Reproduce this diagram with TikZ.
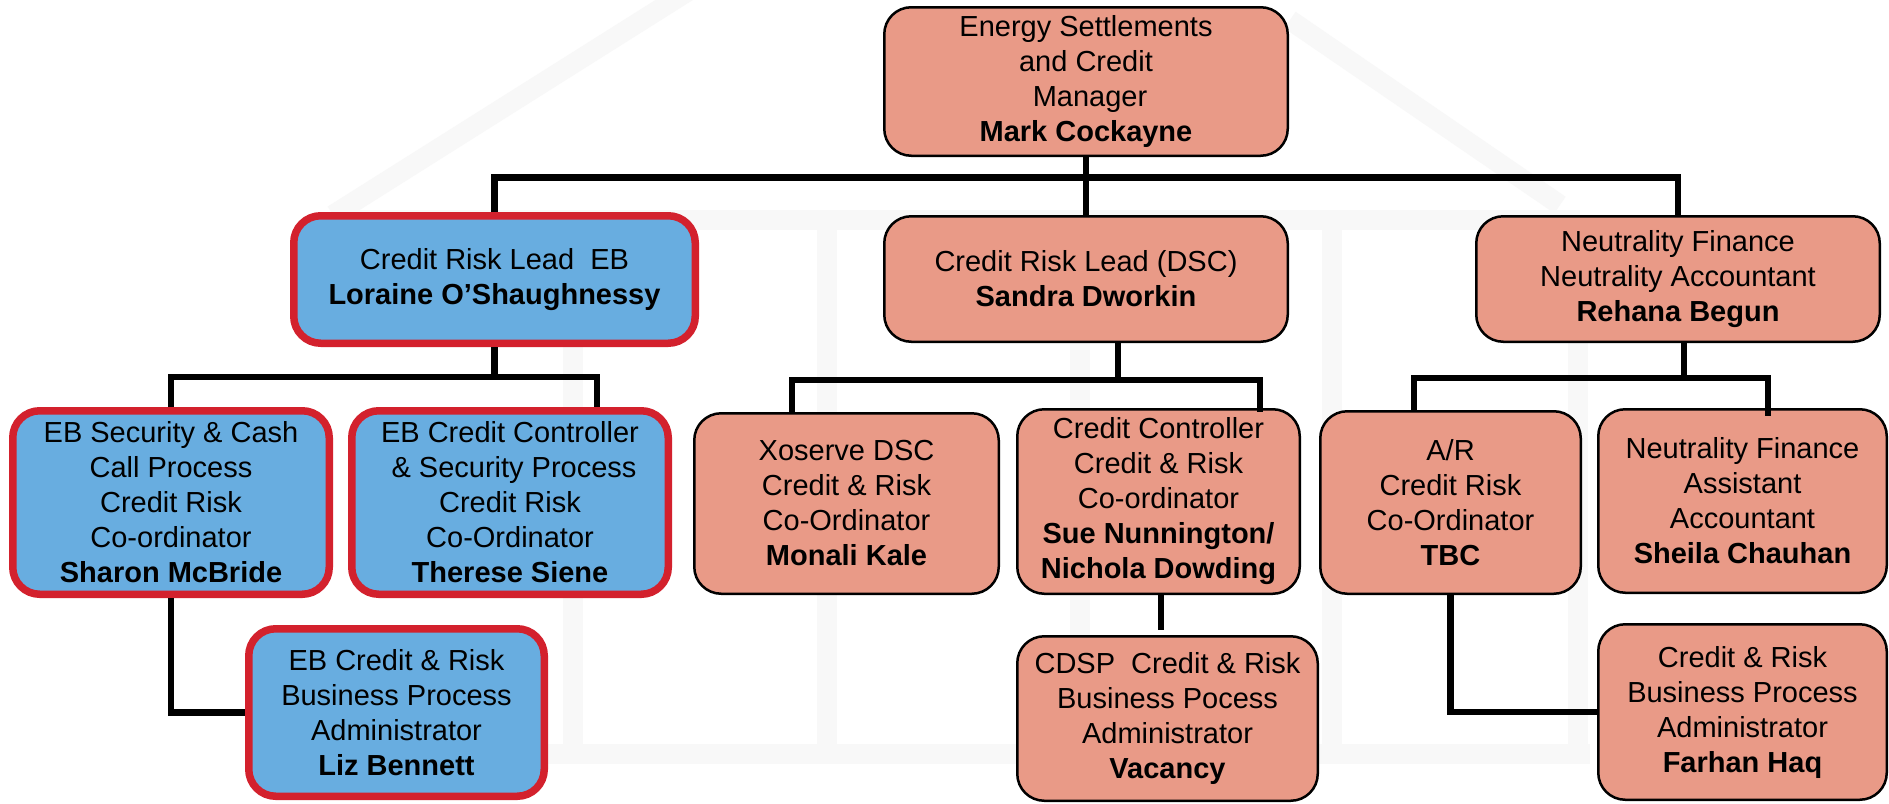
\documentclass[tikz,border=0pt]{standalone}
\usepackage{fontspec}
\setmainfont{Liberation Sans}
\definecolor{pinkfill}{RGB}{233,154,135}
\definecolor{bluefill}{RGB}{104,173,224}
\definecolor{redline}{RGB}{211,33,45}
\definecolor{wm}{RGB}{248,248,248}
\tikzset{
  box/.style={rectangle, rounded corners=13.5pt, align=center, inner sep=0pt,
    font=\fontsize{14.5}{17.5}\selectfont, text=black},
  pinkbox/.style={box, fill=pinkfill, draw=black, line width=1.25pt},
  bluebox/.style={box, fill=bluefill, draw=redline, line width=3.75pt},
  conn/.style={draw=black, line width=3.1pt},
  mark wm/.style={draw=wm, line width=10pt}
}
\begin{document}
\begin{tikzpicture}[x=0.5pt, y=-0.5pt]
\useasboundingbox[fill=white] (0,0) rectangle (1889,803);
% faint watermark
\draw[mark wm] (333,215) -- (690,-10);
\draw[mark wm] (1290,20) -- (1560,205);
\draw[mark wm] (333,220) -- (1580,220);
\draw[mark wm] (573,220) -- (573,754);
\draw[mark wm] (827,220) -- (827,754);
\draw[mark wm] (1080,220) -- (1080,754);
\draw[mark wm] (1332,220) -- (1332,754);
\draw[mark wm] (1578,220) -- (1578,754);
\draw[mark wm] (333,754) -- (1590,754);

% boxes
\node[pinkbox, minimum width=201.75pt, minimum height=74.25pt] (top) at (1086,81.5)
  {Energy Settlements\\and Credit\\\mbox{}\ Manager\\\textbf{Mark Cockayne}};
\node[bluebox, minimum width=200.75pt, minimum height=63.75pt] (loraine) at (494.5,279.5)
  {Credit Risk Lead\ \ EB\\\textbf{Loraine O’Shaughnessy}};
\node[pinkbox, minimum width=201.75pt, minimum height=62.75pt] (sandra) at (1086,279)
  {Credit Risk Lead (DSC)\\\textbf{Sandra Dworkin}};
\node[pinkbox, minimum width=201.75pt, minimum height=62.75pt] (neut) at (1678,279)
  {Neutrality Finance\\Neutrality Accountant\\\textbf{Rehana Begun}};
\node[bluebox, minimum width=158.25pt, minimum height=91.75pt] (sharon) at (171,502.5)
  {EB Security \& Cash\\Call Process\\Credit Risk\\Co-ordinator\\\textbf{Sharon McBride}};
\node[bluebox, minimum width=158.25pt, minimum height=91.75pt] (therese) at (510,502.5)
  {EB Credit Controller\\\mbox{}\ \& Security Process\\Credit Risk\\Co-Ordinator\\\textbf{Therese Siene}};
\node[pinkbox, minimum width=152.25pt, minimum height=90.25pt] (xoserve) at (846.5,503.5)
  {Xoserve DSC\\Credit \& Risk\\Co-Ordinator\\\textbf{Monali Kale}};
\node[pinkbox, minimum width=141.25pt, minimum height=92.25pt] (sue) at (1158.5,501.5)
  {Credit Controller\\Credit \& Risk\\Co-ordinator\\\textbf{Sue Nunnington/}\\\textbf{Nichola Dowding}};
\node[pinkbox, minimum width=130.25pt, minimum height=91.25pt] (ar) at (1450.5,502.5)
  {A/R\\Credit Risk\\Co-Ordinator\\\textbf{TBC}};
\node[pinkbox, minimum width=144.25pt, minimum height=91.75pt] (sheila) at (1742.5,501)
  {Neutrality Finance\\Assistant\\Accountant\\\textbf{Sheila Chauhan}};
\node[bluebox, minimum width=147.75pt, minimum height=83.75pt] (liz) at (396.5,712.5)
  {EB Credit \& Risk\\Business Process\\Administrator\\\textbf{Liz Bennett}};
\node[pinkbox, minimum width=150.25pt, minimum height=82.25pt] (cdsp) at (1167.5,718.5)
  {CDSP\ \ Credit \& Risk\\Business Pocess\\Administrator\\\textbf{Vacancy}};
\node[pinkbox, minimum width=144.25pt, minimum height=87.75pt] (farhan) at (1742.5,712)
  {Credit \& Risk\\Business Process\\Administrator\\\textbf{Farhan Haq}};

% bus coordinates
\coordinate (b1) at (1086,177.5);
\coordinate (b2) at (494.5,377);
\coordinate (b2r) at (597,377);
\coordinate (b3) at (1118,380);
\coordinate (b3l) at (792,380);
\coordinate (b3r) at (1260,380);
\coordinate (b4) at (1684,378);
\coordinate (b4l) at (1414,378);
\coordinate (b4r) at (1768,378);

% connectors
\draw[conn] (top.south) -- (sandra.north);
\draw[conn] (loraine.north) |- (b1) -| (neut.north);
\draw[conn] (loraine.south) -- (b2);
\draw[conn] (sharon.north) |- (b2r) -- (b2r |- therese.north);
\draw[conn] (b3 |- sandra.south) -- (b3);
\draw[conn] (b3l |- xoserve.north) -- (b3l) -- (b3r) -- ([yshift=-2pt]b3r |- sue.north);
\draw[conn] (b4 |- neut.south) -- (b4);
\draw[conn] (b4l |- ar.north) -- (b4l) -- (b4r) -- ([yshift=-4pt]b4r |- sheila.north);
\draw[conn] (sharon.south) |- (liz.west);
\draw[conn] ([xshift=1.25pt]sue.south) -- ([xshift=1.25pt,yshift=2.5pt]sue.south |- cdsp.north);
\draw[conn] (ar.south) |- (farhan.west);
\end{tikzpicture}
\end{document}
